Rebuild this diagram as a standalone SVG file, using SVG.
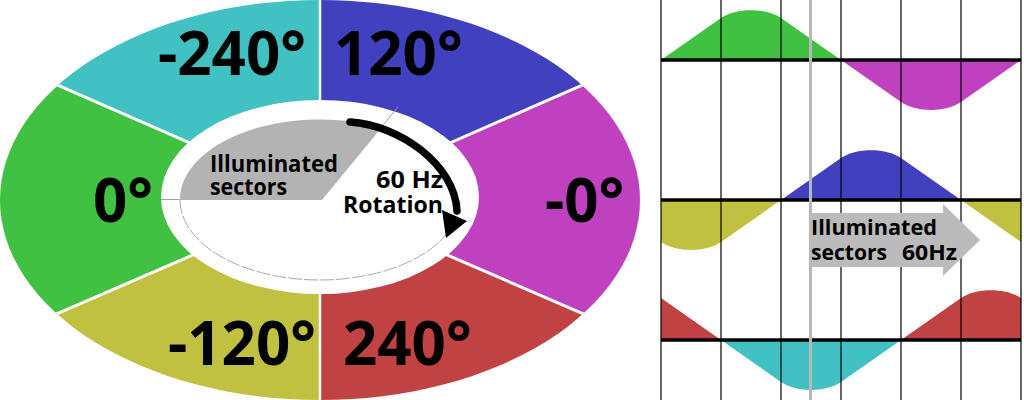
<svg xmlns="http://www.w3.org/2000/svg" width="1024" height="400" viewBox="0 0 1024 400">
<style>
.big{font-family:"Open Sans","Noto Sans",sans-serif;font-weight:700;font-size:60px;fill:#000}
.lbl{font-family:"Open Sans","Noto Sans",sans-serif;font-weight:700;font-size:23px;fill:#000}
.sep{stroke:#fff;stroke-width:3;fill:none}
.grid{stroke:#000;stroke-width:1.2}
.axis{stroke:#000;stroke-width:3.5}
</style>
<defs>
<clipPath id="ring"><ellipse cx="320" cy="200" rx="320" ry="200"/></clipPath>
<clipPath id="panel"><rect x="661" y="0" width="360" height="400"/></clipPath>
</defs>
<rect width="1024" height="400" fill="#fff"/>
<g id="wheel">
<g clip-path="url(#ring)">
<polygon id="s-240" points="320,200 -204,-30 -204,-100 320,-100" fill="#41C1C1"/>
<polygon id="s120" points="320,200 320,-100 844,-100 844,-30" fill="#4141C0"/>
<polygon id="s-0" points="320,200 844,-30 844,426" fill="#BF41BF"/>
<polygon id="s240" points="320,200 844,426 844,500 320,500" fill="#C04242"/>
<polygon id="s-120" points="320,200 320,500 -204,500 -204,426" fill="#C1C141"/>
<polygon id="s0" points="320,200 -204,426 -204,-30" fill="#41C141"/>
<line class="sep" x1="320" y1="0" x2="320" y2="400" style="stroke-width:2.5"/>
<line class="sep" x1="320" y1="200" x2="-20" y2="51"/>
<line class="sep" x1="320" y1="200" x2="660" y2="51"/>
<line class="sep" x1="320" y1="200" x2="-20" y2="347"/>
<line class="sep" x1="320" y1="200" x2="660" y2="347"/>
</g>
<ellipse cx="320" cy="197" rx="159" ry="97" fill="#fff"/>
</g>
<g id="illuminated-sector">
<path d="M322,200 L180,200 A140 80 0 0 1 381.6,127.6 Z" fill="#B3B3B3"/>
<line x1="379" y1="130" x2="398" y2="107" stroke="#A0A0A0" stroke-width="1"/>
<line x1="161" y1="199.5" x2="180" y2="199.5" stroke="#A0A0A0" stroke-width="1"/>
<path d="M180,200 A140 80 0 0 0 460,200" fill="none" stroke="#A8A8A8" stroke-width="1" stroke-dasharray="14 2"/>
<text class="lbl" x="210" y="172" textLength="128" lengthAdjust="spacingAndGlyphs">Illuminated</text>
<text class="lbl" x="210" y="195" textLength="77" lengthAdjust="spacingAndGlyphs">sectors</text>
</g>
<g id="rotation-arrow">
<path d="M350,122 C400,125 455,165 457,211" fill="none" stroke="#000" stroke-width="7.5" stroke-linecap="round"/>
<polygon points="442,210 467,221 446,238" fill="#000"/>
<text class="lbl" x="443" y="188" text-anchor="end" textLength="67" lengthAdjust="spacingAndGlyphs">60 Hz</text>
<text class="lbl" x="443" y="213" text-anchor="end" textLength="100" lengthAdjust="spacingAndGlyphs">Rotation</text>
</g>
<g id="labels">
<text class="big" x="158" y="75">-240°</text>
<text class="big" x="334" y="75">120°</text>
<text class="big" x="93" y="222">0°</text>
<text class="big" x="545" y="222">-0°</text>
<text class="big" x="168" y="365">-120°</text>
<text class="big" x="343" y="365">240°</text>
</g>
<g id="waveforms" clip-path="url(#panel)">
<path id="w-green" d="M661,60 L721,18 C736,7.5 766,7.5 781,18 L841,60 Z" fill="#41C141"/>
<path id="w-magenta" d="M841,60 L901,102 C916,112.5 946,112.5 961,102 L1021,60 Z" fill="#BF41BF"/>
<path id="w-blue" d="M781,200 L841,158 C856,147.5 886,147.5 901,158 L961,200 Z" fill="#4141C0"/>
<path id="w-yellow1" d="M601,200 L661,242 C676,252.5 706,252.5 721,242 L781,200 Z" fill="#C1C141"/>
<path id="w-yellow2" d="M961,200 L1021,242 C1036,252.5 1066,252.5 1081,242 L1141,200 Z" fill="#C1C141"/>
<path id="w-red1" d="M541,340 L601,298 C616,287.5 646,287.5 661,298 L721,340 Z" fill="#C04242"/>
<path id="w-red2" d="M901,340 L961,298 C976,287.5 1006,287.5 1021,298 L1081,340 Z" fill="#C04242"/>
<path id="w-cyan" d="M721,340 L781,382 C796,392.5 826,392.5 841,382 L901,340 Z" fill="#41C1C1"/>
</g>
<g id="connectors">
<line class="grid" x1="661" y1="0" x2="661" y2="400"/>
<line class="grid" x1="721" y1="0" x2="721" y2="400"/>
<line class="grid" x1="781" y1="0" x2="781" y2="400"/>
<line class="grid" x1="841" y1="0" x2="841" y2="400"/>
<line class="grid" x1="901" y1="0" x2="901" y2="400"/>
<line class="grid" x1="961" y1="0" x2="961" y2="400"/>
<line class="grid" x1="1021" y1="0" x2="1021" y2="400"/>
<line class="axis" x1="661" y1="60" x2="1021" y2="60"/>
<line class="axis" x1="661" y1="200" x2="1021" y2="200"/>
<line class="axis" x1="661" y1="340" x2="1021" y2="340"/>
<line x1="810.5" y1="0" x2="810.5" y2="400" stroke="#B8B8B8" stroke-width="3"/>
</g>
<g id="scan-arrow">
<polygon points="810,213 943,213 943,204 980,240 943,276 943,267 810,267" fill="#BBBBBB"/>
<text class="lbl" x="811" y="235" style="font-size:21px" textLength="126" lengthAdjust="spacingAndGlyphs">Illuminated</text>
<text class="lbl" y="260" style="font-size:21px"><tspan x="811" textLength="76" lengthAdjust="spacingAndGlyphs">sectors</tspan><tspan x="902" textLength="55" lengthAdjust="spacingAndGlyphs">60Hz</tspan></text>
</g>
</svg>
